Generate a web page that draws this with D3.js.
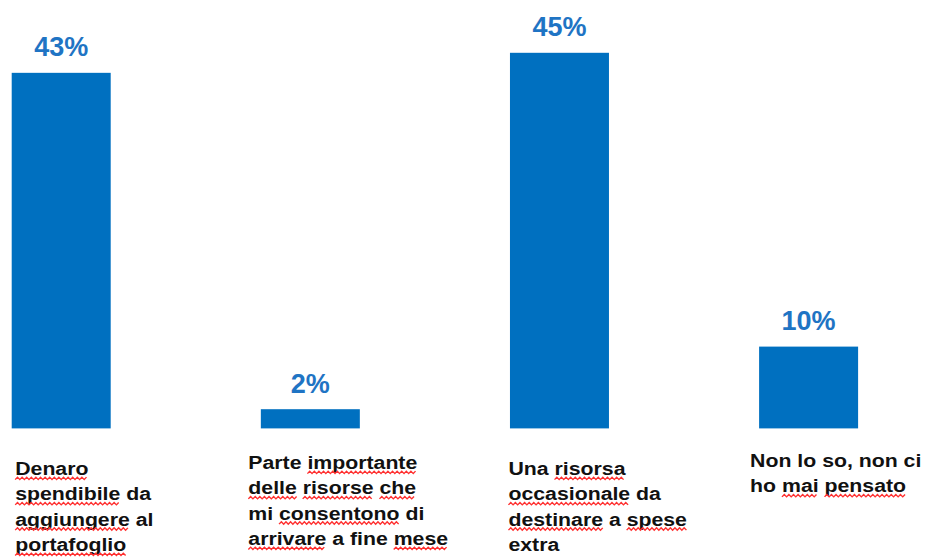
<!DOCTYPE html>
<html>
<head>
<meta charset="utf-8">
<script src="https://cdn.jsdelivr.net/npm/d3@7"></script>
<style>
  body { margin: 0; background: #fff; }
  svg { display: block; }
</style>
</head>
<body>
<div id="chart"></div>
<script>
// data
const categories = ["denaro", "parte", "risorsa", "nonso"];
const values = [42.6, 2.3, 45.0, 9.8];
const valueLabels = ["43%", "2%", "45%", "10%"];
const labelLines = [
  ["Denaro", "spendibile da", "aggiungere al", "portafoglio"],
  ["Parte importante", "delle risorse che", "mi consentono di", "arrivare a fine mese"],
  ["Una risorsa", "occasionale da", "destinare a spese", "extra"],
  ["Non lo so, non ci", "ho mai pensato"]
];
// words with the red spell-check squiggle in the original
const flaggedWords = ["Denaro", "spendibile", "aggiungere", "portafoglio",
  "importante", "delle", "risorse", "che", "consentono", "arrivare", "mese",
  "risorsa", "occasionale", "destinare", "spese", "mai", "pensato"];

const width = 925, height = 557;
const blue = "#0070C0";
const barWidth = 99;
// label block offsets (left edge relative to bar centre, first baseline)
const labelDx = [-46, -62, -51, -58.5];
const labelY = [475, 469, 475, 467];
const lineHeight = 25.3;

const svg = d3.select("#chart").append("svg")
  .attr("width", width)
  .attr("height", height)
  .style("overflow", "hidden");

const x = d3.scalePoint()
  .domain(categories)
  .range([61.2, 808.6]);

const y = d3.scaleLinear()
  .domain([0, 45])
  .range([428.4, 52.8]);

const data = categories.map((c, i) => ({ cat: c, value: values[i], label: valueLabels[i], lines: labelLines[i], i }));

// bars
svg.selectAll("rect.bar")
  .data(data)
  .enter()
  .append("rect")
  .attr("class", "bar")
  .attr("x", d => x(d.cat) - barWidth / 2)
  .attr("y", d => y(d.value))
  .attr("width", barWidth)
  .attr("height", d => y(0) - y(d.value))
  .attr("fill", blue);

// value labels
svg.selectAll("text.val")
  .data(data)
  .enter()
  .append("text")
  .attr("class", "val")
  .attr("x", d => x(d.cat))
  .attr("y", d => y(d.value) - 16.5)
  .attr("text-anchor", "middle")
  .style("font-family", "'Liberation Sans', Arial, sans-serif")
  .style("font-weight", "bold")
  .style("font-size", "27px")
  .attr("fill", "#1F74C4")
  .text(d => d.label);

// category labels, left aligned, a bit wider than tall like the original
const groups = svg.selectAll("g.cat")
  .data(data)
  .enter()
  .append("g")
  .attr("class", "cat")
  .attr("transform", d => `translate(${x(d.cat) + labelDx[d.i]},${labelY[d.i]}) scale(1.15,1)`);

groups.each(function(d) {
  const g = d3.select(this);
  d.lines.forEach((line, li) => {
    const ty = li * lineHeight;
    const t = g.append("text")
      .attr("x", 0)
      .attr("y", ty)
      .style("font-family", "'Liberation Sans', Arial, sans-serif")
      .style("font-weight", "bold")
      .style("font-size", "18.5px")
      .attr("fill", "#111")
      .text(line);
    const node = t.node();
    let pos = 0;
    line.split(" ").forEach(word => {
      const clean = word.replace(/[,.]/g, "");
      if (flaggedWords.includes(clean)) {
        const x0 = pos > 0 ? node.getSubStringLength(0, pos) : 0;
        const w = node.getSubStringLength(pos, clean.length);
        const pts = [];
        const step = 2;
        for (let k = 0; k * step <= w; k++) {
          pts.push([x0 + k * step, ty + 3.4 + (k % 2 ? -1.2 : 1.2)]);
        }
        g.append("path")
          .attr("d", d3.line()(pts))
          .attr("fill", "none")
          .attr("stroke", "#ff3030")
          .attr("stroke-width", 1.2);
      }
      pos += word.length + 1;
    });
  });
});
</script>
</body>
</html>
